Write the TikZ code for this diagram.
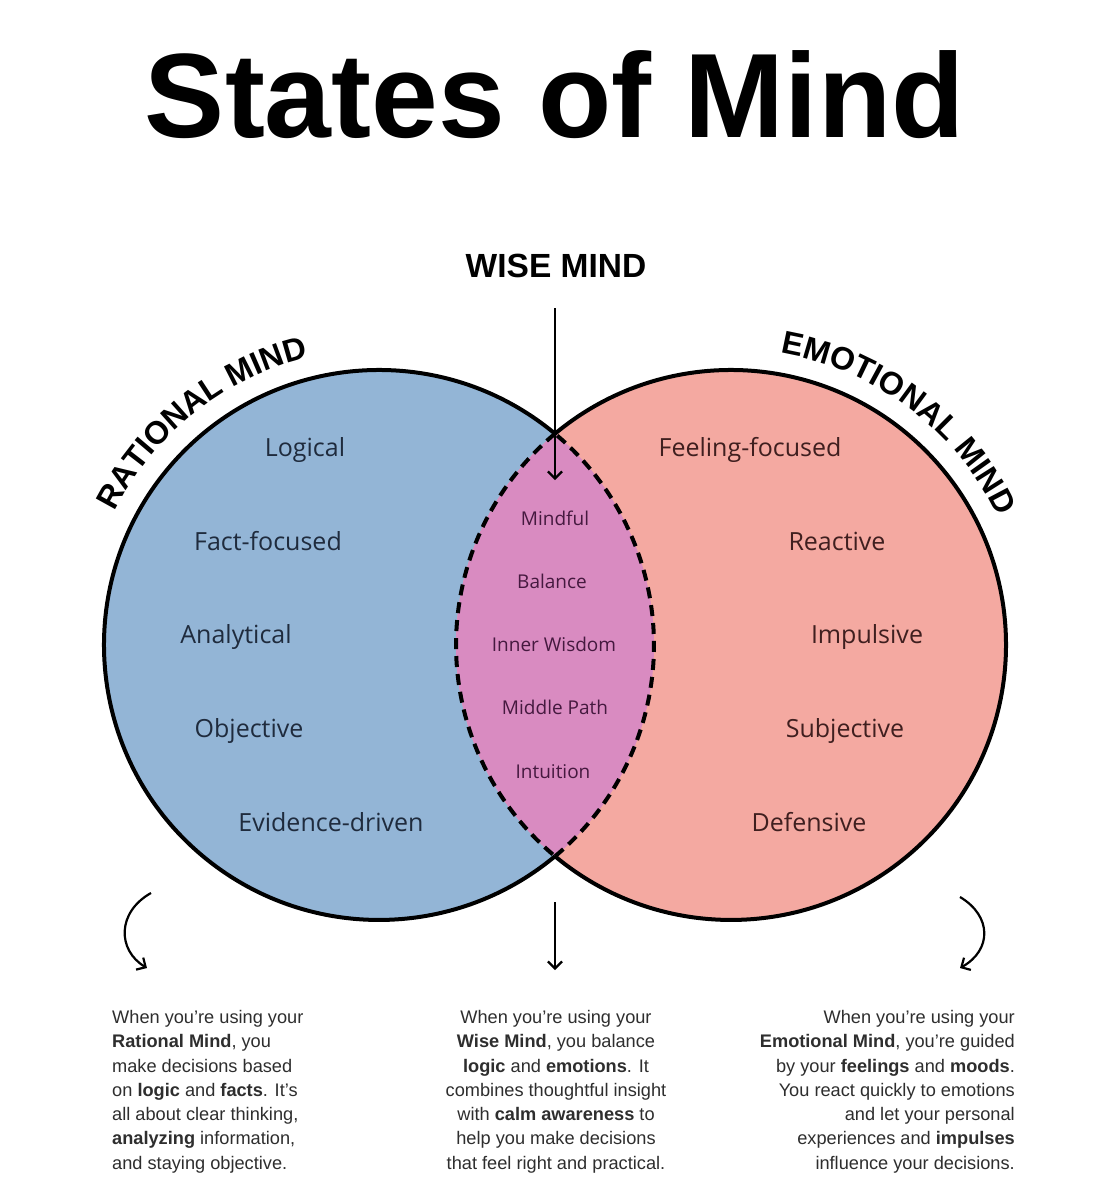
\documentclass[tikz,border=0pt]{standalone}
\usepackage{fontspec}
\setmainfont{Open Sans}
\newfontfamily\headfont{Liberation Sans}
\newfontfamily\parafont{Liberation Sans}
\usetikzlibrary{arrows.meta,decorations.text}

\definecolor{ratblue}{HTML}{93B5D6}
\definecolor{emopink}{HTML}{F4A9A1}
\definecolor{wisepink}{HTML}{D98BC1}
\definecolor{ratink}{HTML}{1F2B3D}
\definecolor{emoink}{HTML}{3F1F1F}
\definecolor{wiseink}{HTML}{45193F}
\definecolor{paraink}{HTML}{2E2E2E}

\begin{document}
\begin{tikzpicture}[x=1pt,y=1pt,
  ratword/.style={font=\fontsize{25}{25}\selectfont, text=ratink, inner sep=0pt, anchor=base},
  emoword/.style={font=\fontsize{25}{25}\selectfont, text=emoink, inner sep=0pt, anchor=base},
  wiseword/.style={font=\fontsize{19}{19}\selectfont, text=wiseink, inner sep=0pt, anchor=base},
  outline/.style={line width=4pt, black},
  lensline/.style={line width=4pt, black, dash pattern=on 11pt off 7pt},
  pointer/.style={line width=2.2pt, black, -{Straight Barb[length=7pt,width=14pt,line width=2.2pt]}},
  para/.style={font=\parafont\fontsize{18.2}{24.3}\selectfont, text=paraink, inner sep=0pt},
]
\fill[white] (0,0) rectangle (1115,-1200);
\useasboundingbox (0,0) rectangle (1115,-1200);

% title
\node[font=\headfont\bfseries\fontsize{120}{120}\selectfont, anchor=base, inner sep=0pt] (title) at (555,-137) {States of Mind};

% circles
\coordinate (lc) at (379,-645);
\coordinate (rc) at (731,-645);
\fill[ratblue] (lc) circle (275);
\fill[emopink] (rc) circle (275);
\begin{scope}
  \clip (lc) circle (275);
  \fill[wisepink] (rc) circle (275);
\end{scope}
\coordinate (itop) at (555,-433.7);
\coordinate (ibot) at (555,-856.3);
\draw[outline] (itop) arc[start angle=50.2, end angle=309.8, radius=275];
\draw[outline] (itop) arc[start angle=129.8, end angle=-129.8, radius=275];
\draw[lensline] (itop) arc[start angle=129.8, end angle=230.2, radius=275];
\draw[lensline] (ibot) arc[start angle=-50.2, end angle=50.2, radius=275];

% curved headings
\path[decorate, decoration={text along path, text align=center,
  text={|\headfont\bfseries\fontsize{32}{32}\selectfont|RATIONAL MIND}}]
  ([shift={(168:296)}]lc) arc[start angle=168, end angle=89, radius=296];
\path[decorate, decoration={text along path, text align=center,
  text={|\headfont\bfseries\fontsize{32}{32}\selectfont|EMOTIONAL MIND}}]
  ([shift={(92:296)}]rc) arc[start angle=92, end angle=14, radius=296];

% wise mind heading and arrow
\node[font=\headfont\bfseries\fontsize{33.5}{33.5}\selectfont, anchor=base, inner sep=0pt] (wisehead) at (556,-277) {WISE MIND};
\coordinate (wtop) at (555,-308);
\coordinate (wtip) at (555,-480);
\draw[pointer] (wtop) -- (wtip);

% rational words
\node[ratword] (logical) at (305,-456.5) {Logical};
\node[ratword] (fact) at (268,-550.5) {Fact-focused};
\node[ratword] (analytical) at (236,-643.5) {Analytical};
\node[ratword] (objective) at (249,-737.5) {Objective};
\node[ratword] (evidence) at (331,-831.5) {Evidence-driven};

% emotional words
\node[emoword] (feeling) at (750,-456.5) {Feeling-focused};
\node[emoword] (reactive) at (837,-550.5) {Reactive};
\node[emoword] (impulsive) at (867,-643.5) {Impulsive};
\node[emoword] (subjective) at (845,-737.5) {Subjective};
\node[emoword] (defensive) at (809,-831.5) {Defensive};

% wise words
\node[wiseword] (mindful) at (555,-525.5) {Mindful};
\node[wiseword] (balance) at (552,-588.5) {Balance};
\node[wiseword] (inner) at (554,-651.5) {Inner Wisdom};
\node[wiseword] (middle) at (555,-714.5) {Middle Path};
\node[wiseword] (intuition) at (553,-778.5) {Intuition};

% lower arrows
\coordinate (wb1) at (555,-902);
\coordinate (wb2) at (555,-970);
\draw[pointer] (wb1) -- (wb2);
\coordinate (rs) at (151,-893);
\coordinate (re) at (147,-968);
\draw[pointer] (rs) .. controls (117,-912) and (117,-950) .. (re);
\coordinate (es) at (960,-897);
\coordinate (ee) at (960,-968);
\draw[pointer] (es) .. controls (992,-916) and (992,-950) .. (ee);

% paragraphs
\node[para, anchor=north west, align=left] (ratpara) at (112,-1010) {When you’re using your\\
\textbf{Rational Mind}, you\\
make decisions based\\
on \textbf{logic} and \textbf{facts}. It’s\\
all about clear thinking,\\
\textbf{analyzing} information,\\
and staying objective.};
\node[para, anchor=north, align=center] (wisepara) at (556,-1010) {When you’re using your\\
\textbf{Wise Mind}, you balance\\
\textbf{logic} and \textbf{emotions}. It\\
combines thoughtful insight\\
with \textbf{calm awareness} to\\
help you make decisions\\
that feel right and practical.};
\node[para, anchor=north east, align=right] (emopara) at (1015,-1010) {When you’re using your\\
\textbf{Emotional Mind}, you’re guided\\
by your \textbf{feelings} and \textbf{moods}.\\
You react quickly to emotions\\
and let your personal\\
experiences and \textbf{impulses}\\
influence your decisions.};
\end{tikzpicture}
\end{document}
